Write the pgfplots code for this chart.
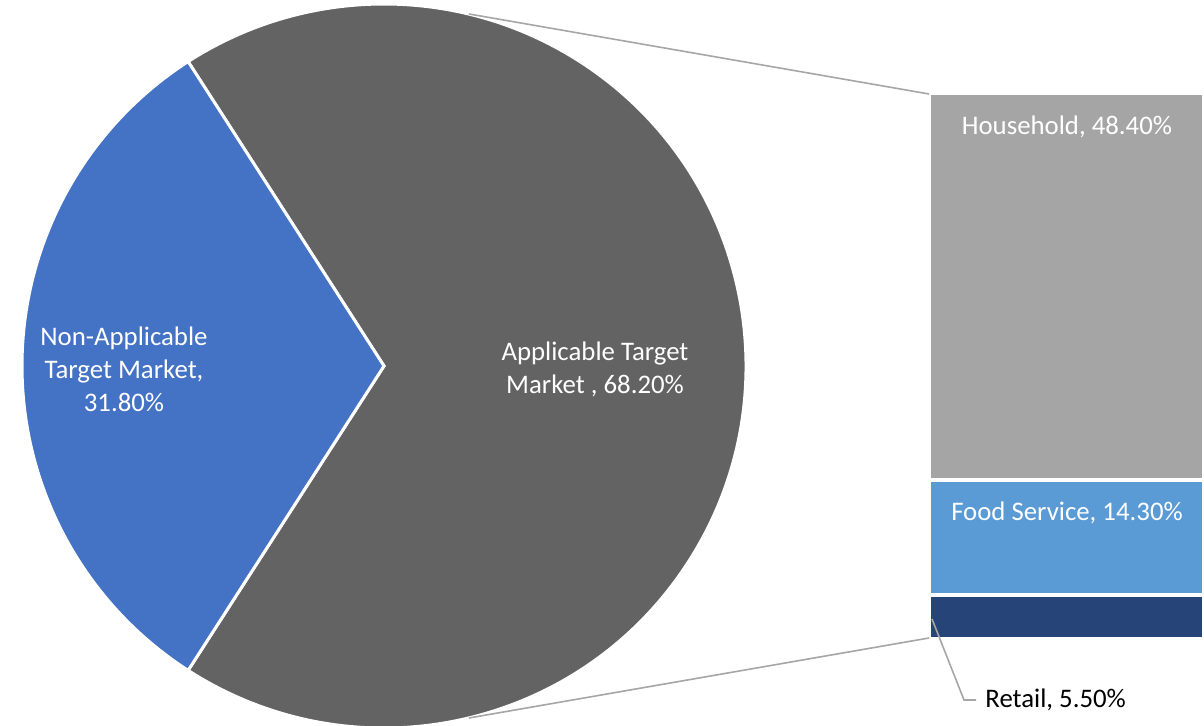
\documentclass[border=0pt]{standalone}
\usepackage{fontspec}
\setmainfont{Carlito}
\usepackage{pgfplots}
\usepackage{pgfplotstable}
\pgfplotsset{compat=1.18}
\definecolor{piegrey}{HTML}{636363}
\definecolor{pieblue}{HTML}{4472C4}
\definecolor{barlgrey}{HTML}{A5A5A5}
\definecolor{barlblue}{HTML}{5B9BD5}
\definecolor{barnavy}{HTML}{264478}
\definecolor{linegrey}{HTML}{A6A6A6}

\pgfplotstableread{
label value
NonApplicable 31.8
Applicable 68.2
}\pietable
\pgfplotstableread{
x Retail FoodService Household
0.5 5.5 14.3 48.4
}\bartable

\begin{document}
\begin{tikzpicture}
\pgfplotstablegetelem{0}{value}\of\pietable
\pgfmathsetmacro{\halfang}{\pgfplotsretval*1.8}
\pgfmathsetmacro{\aS}{180-\halfang}
\pgfmathsetmacro{\aE}{180+\halfang}
\pgfmathsetmacro{\aG}{360+\aS}
\pgfmathsetmacro{\xS}{181*cos(\aS)}
\pgfmathsetmacro{\yS}{181*sin(\aS)}
\pgfmathsetmacro{\xE}{181*cos(\aE)}
\pgfmathsetmacro{\yE}{181*sin(\aE)}

% bar of the split slice
\begin{axis}[
  at={(464.5pt,43.5pt)}, anchor=south west,
  scale only axis, width=137.5pt, height=273pt,
  xmin=0, xmax=1, ymin=0, ymax=68.2,
  hide axis, clip=false,
  ybar stacked, bar width=137.5pt,
]
\addplot[fill=barnavy, draw=white, line width=2pt] table[x=x, y=Retail] {\bartable};
\addplot[fill=barlblue, draw=white, line width=2pt] table[x=x, y=FoodService] {\bartable};
\addplot[fill=barlgrey, draw=white, line width=2pt] table[x=x, y=Household] {\bartable};
\end{axis}

% pie
\begin{axis}[
  at={(0pt,0pt)}, anchor=south west,
  scale only axis, width=602pt, height=363pt,
  xmin=0, xmax=1204, ymin=0, ymax=726,
  hide axis,
]
\fill[piegrey, draw=white, line width=1.5pt] (axis cs:384,360) -- ++(\xE pt,\yE pt) arc[start angle=\aE, end angle=\aG, radius=181pt] -- cycle;
\fill[pieblue, draw=white, line width=1.5pt] (axis cs:384,360) -- ++(\xS pt,\yS pt) arc[start angle=\aS, end angle=\aE, radius=181pt] -- cycle;
\draw[linegrey, line width=0.8pt] (axis cs:469,712) -- (axis cs:929,632);
\draw[linegrey, line width=0.8pt] (axis cs:469,8) -- (axis cs:929,88);
\draw[linegrey, line width=0.8pt] (axis cs:932,107) -- (axis cs:964,26) -- (axis cs:976,26);
\node[black, anchor=base west, font=\fontsize{13.4}{16}\selectfont, inner sep=0pt] at (axis cs:985,18) {Retail, 5.50\%};
\node[white, align=center, font=\fontsize{13.4}{16.5}\selectfont] at (axis cs:124,357) {Non-Applicable\\Target Market,\\31.80\%};
\node[white, align=center, font=\fontsize{13.4}{16.5}\selectfont] at (axis cs:595,357) {Applicable Target\\Market , 68.20\%};
\node[white, font=\fontsize{13.4}{16}\selectfont] at (axis cs:1067,599) {Household, 48.40\%};
\node[white, font=\fontsize{13.4}{16}\selectfont] at (axis cs:1067,213) {Food Service, 14.30\%};
\end{axis}
\pgfresetboundingbox
\path[use as bounding box] (0pt,0pt) rectangle (602pt,363pt);
\end{tikzpicture}
\end{document}
